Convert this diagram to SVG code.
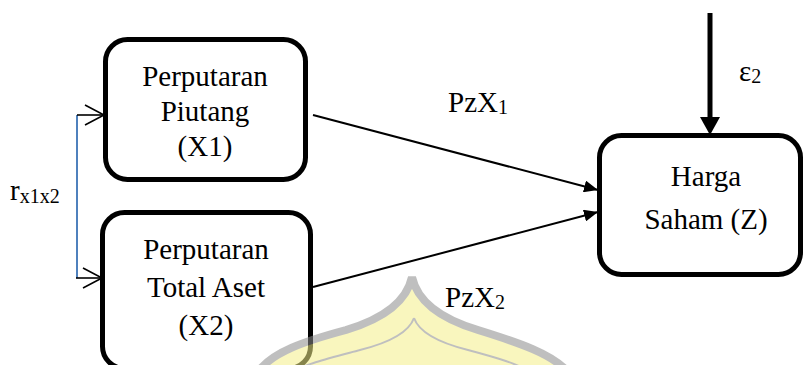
<svg xmlns="http://www.w3.org/2000/svg" width="804" height="365" viewBox="0 0 804 365">
<defs>
<style>
.box{fill:#fff;stroke:#000;stroke-width:5}
.t{font-family:"Liberation Serif","Times New Roman",serif;font-size:29px;fill:#000;text-anchor:middle}
.l{font-family:"Liberation Serif","Times New Roman",serif;font-size:29px;fill:#000}
.sub{font-size:20px}
.ln{stroke:#000;stroke-width:2;fill:none}
.chev{stroke:#000;stroke-width:1.6;fill:none}
</style>
<marker id="ah" viewBox="0 0 14 12" refX="14" refY="6" markerWidth="14" markerHeight="12" markerUnits="userSpaceOnUse" orient="auto">
<path d="M0 0 L14 6 L0 12 Z" fill="#000"/>
</marker>
</defs>
<rect width="804" height="365" fill="#fff"/>
<g id="connectors">
<line class="ln" x1="313" y1="115" x2="598" y2="190" marker-end="url(#ah)"/>
<line class="ln" x1="313" y1="287" x2="598" y2="212" marker-end="url(#ah)"/>
<line x1="710" y1="13" x2="710" y2="119" stroke="#000" stroke-width="5"/>
<path d="M700 117 L720 117 L710 135 Z" fill="#000"/>
<line x1="77" y1="115" x2="77" y2="278" stroke="#4f81bd" stroke-width="2"/>
<line class="chev" x1="77" y1="115" x2="104" y2="115"/>
<path class="chev" d="M85 105 L104 115 L85 125"/>
<line class="chev" x1="76" y1="278" x2="102" y2="278"/>
<path class="chev" d="M83 268 L102 278 L83 288"/>
</g>
<g id="node-x1">
<rect class="box" x="105.5" y="39.5" width="200" height="140" rx="22"/>
<text class="t" x="205" y="86">Perputaran</text>
<text class="t" x="205" y="121">Piutang</text>
<text class="t" x="205" y="156">(X1)</text>
</g>
<g id="node-x2">
<rect class="box" x="102.5" y="212.5" width="208" height="156" rx="22"/>
<text class="t" x="206" y="259">Perputaran</text>
<text class="t" x="206" y="297">Total Aset</text>
<text class="t" x="206" y="335">(X2)</text>
</g>
<g id="node-z">
<rect class="box" x="599.5" y="135.5" width="201" height="139" rx="22"/>
<text class="t" x="706" y="186">Harga</text>
<text class="t" x="706" y="229">Saham (Z)</text>
</g>
<g id="labels">
<text class="l" x="448" y="112">PzX<tspan class="sub" dy="2">1</tspan></text>
<text class="l" x="445" y="307">PzX<tspan class="sub" dy="2">2</tspan></text>
<text class="l" x="739" y="81">ε<tspan class="sub" dy="2">2</tspan></text>
<text class="l" x="10" y="200">r<tspan class="sub" dy="3">x1x2</tspan></text>
</g>
<g id="watermark" opacity="0.55">
<path d="M412 277 C417 300 438 318 478 330 C520 343 552 354 568 372 L258 372 C272 352 305 341 346 330 C386 318 407 300 412 277 Z" fill="#f5f08a" stroke="#8c8c8c" stroke-width="8"/>
<path d="M414 318 C419 332 440 343 468 350 C498 358 518 364 530 372 M414 318 C409 332 388 343 360 350 C330 358 305 364 292 372" fill="none" stroke="#8c8c8c" stroke-width="2"/>
</g>
</svg>
